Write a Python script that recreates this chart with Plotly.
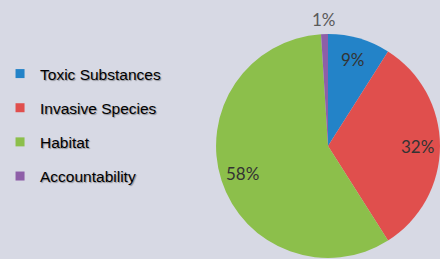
import math
import plotly.graph_objects as go

categories = ["Toxic Substances", "Invasive Species", "Habitat", "Accountability"]
values = [9, 32, 58, 1]
colors = ["#2383c8", "#e04f4d", "#8cbf4b", "#8e5fa8"]

W, H = 440, 259
total = sum(values)
pct = [f"{round(v / total * 100)}%" for v in values]

# pie domain (pixels) -> paper fractions
dom_x = [214 / W, 1]
dom_y = [0, 1 - 33 / H]

fig = go.Figure()
fig.add_trace(go.Pie(
    labels=categories, values=values, sort=False, direction="clockwise", rotation=0,
    marker=dict(colors=colors, line=dict(width=0)),
    textinfo="none", domain=dict(x=dom_x, y=dom_y),
    showlegend=False, hoverinfo="label+percent",
))
for c, col in zip(categories, colors):
    fig.add_trace(go.Scatter(
        x=[None], y=[None], mode="markers", name=c, legendgroup=c,
        marker=dict(symbol="square", size=9, color=col),
    ))

# data labels placed along each slice bisector (Excel-like "best fit")
x0, x1 = dom_x[0] * W, dom_x[1] * W
y0, y1 = (1 - dom_y[1]) * H, (1 - dom_y[0]) * H
r = min(x1 - x0, y1 - y0) / 2
cx, cy = (x0 + x1) / 2, (y0 + y1) / 2
cum = 0
for v, p in zip(values, pct):
    frac = v / total
    ang = 2 * math.pi * (cum + frac / 2)
    cum += frac
    small = frac < 0.05
    rr = r * (1.12 if small else 0.8)
    px = cx + rr * math.sin(ang)
    py = cy - rr * math.cos(ang)
    fig.add_annotation(text=p, x=px / W, y=1 - py / H, xref="paper", yref="paper",
                       showarrow=False, xanchor="center", yanchor="middle",
                       font=dict(family="Lato", size=17,
                                 color="#5a5a5a" if small else "#333333"))

fig.update_layout(
    width=W, height=H, margin=dict(l=0, r=0, t=0, b=0),
    paper_bgcolor="#d7d9e4", plot_bgcolor="rgba(0,0,0,0)",
    xaxis=dict(visible=False), yaxis=dict(visible=False),
    showlegend=True,
    legend=dict(x=-4 / W, xanchor="left", y=1 - 57 / H, yanchor="top",
                tracegroupgap=11, bgcolor="rgba(0,0,0,0)",
                font=dict(family="Liberation Sans", size=15.5, color="#000000",
                          shadow="1px 1px 1px rgba(0,0,0,0.35)")),
)
fig.write_html("out.html", config={"displayModeBar": False},
               post_script="document.body.style.margin='0';")
